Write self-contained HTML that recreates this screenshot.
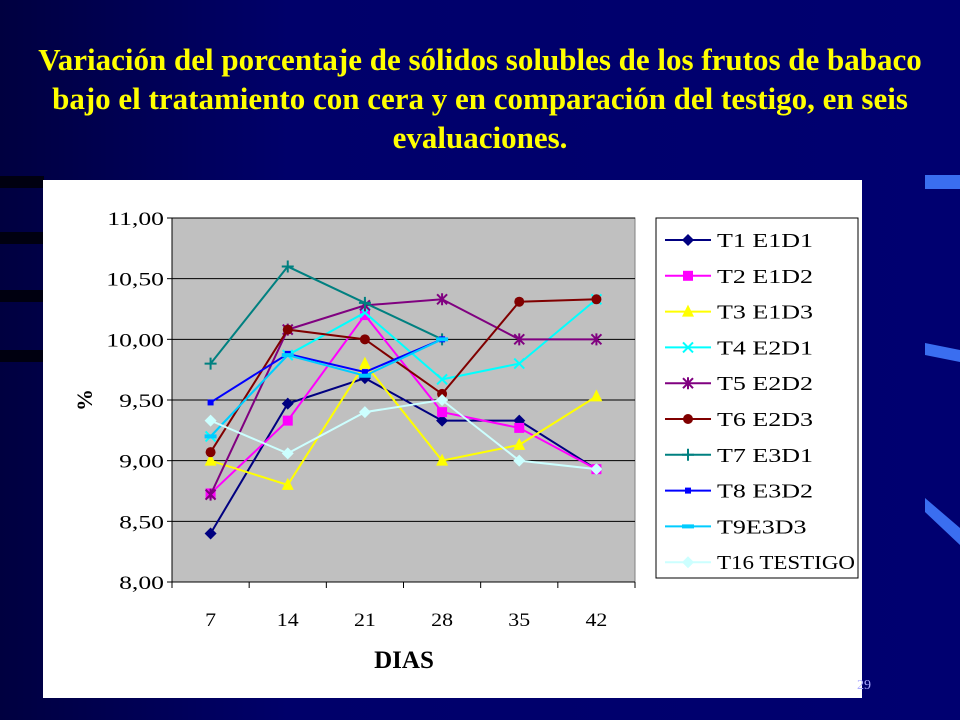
<!DOCTYPE html>
<html><head><meta charset="utf-8">
<style>
html,body{margin:0;padding:0}
body{width:960px;height:720px;overflow:hidden;background:linear-gradient(90deg,#000040 0%,#00006a 30%,#000070 100%);position:relative;font-family:"Liberation Serif",serif}
#title{position:absolute;left:0;top:40px;width:960px;text-align:center;color:#ffff00;font-weight:bold;font-size:31px;line-height:39px;white-space:nowrap}
</style></head><body>
<div id="title">Variación del porcentaje de sólidos solubles de los frutos de babaco<br>bajo el tratamiento con cera y en comparación del testigo, en seis<br>evaluaciones.</div>
<svg id="stripes" width="960" height="720" style="position:absolute;left:0;top:0">
<rect x="0" y="176" width="44" height="12" fill="#000010"/>
<rect x="0" y="232" width="44" height="12" fill="#000010"/>
<rect x="0" y="290" width="44" height="12" fill="#000010"/>
<rect x="0" y="350" width="44" height="12" fill="#000010"/>
<rect x="925" y="175" width="35" height="14" fill="#3a6ef0"/>
<polygon points="925,343 960,350 960,362 925,355" fill="#3a6ef0"/>
<polygon points="925,498 960,528 960,545 925,512" fill="#3a6ef0"/>
</svg>
<svg id="chart" width="960" height="720" style="position:absolute;left:0;top:0"></svg>
<div style="position:absolute;left:857px;top:678px;color:#aaaaff;font-size:14px">29</div>
<script>
const categories=["7","14","21","28","35","42"];
const yTicks=[8,8.5,9,9.5,10,10.5,11];
const seriesNames=["T1 E1D1","T2 E1D2","T3 E1D3","T4 E2D1","T5 E2D2","T6 E2D3","T7 E3D1","T8 E3D2","T9E3D3","T16 TESTIGO"];
const t1=[8.40,9.47,9.68,9.33,9.33,8.93];
const t2=[8.73,9.33,10.20,9.40,9.27,8.93];
const t3=[9.00,8.80,9.80,9.00,9.13,9.53];
const t4=[9.20,9.87,10.22,9.67,9.80,10.33];
const t5=[8.72,10.08,10.28,10.33,10.00,10.00];
const t6=[9.07,10.08,10.00,9.55,10.31,10.33];
const t7=[9.80,10.60,10.30,10.00,null,null];
const t8=[9.48,9.88,9.73,10.00,null,null];
const t9=[9.20,9.87,9.70,10.00,null,null];
const t16=[9.33,9.06,9.40,9.50,9.00,8.93];
const seriesValues=[t1,t2,t3,t4,t5,t6,t7,t8,t9,t16];
const colors=["#000080","#ff00ff","#ffff00","#00ffff","#800080","#800000","#008080","#0000ff","#00ccff","#ccffff"];
const markers=["diamond","square","triangle","x","star","circle","plus","smallsquare","dash","diamond"];

const NS="http://www.w3.org/2000/svg";
const svg=document.getElementById('chart');
function el(t,a,p){const e=document.createElementNS(NS,t);for(const k in a)e.setAttribute(k,a[k]);(p||svg).appendChild(e);return e;}
function stretch(t,k){const w=t.getComputedTextLength();t.setAttribute('textLength',w*k);t.setAttribute('lengthAdjust','spacingAndGlyphs');}
const PX0=172,PX1=635,PY0=218,PY1=582,YMIN=8,YMAX=11;
function xs(i){return PX0+(i+0.5)*(PX1-PX0)/categories.length;}
function ys(v){return PY1-(v-YMIN)/(YMAX-YMIN)*(PY1-PY0);}

let bg=el('rect',{x:43,y:180,width:819,height:518,fill:'#fff'});


let pa=el('rect',{x:PX0,y:PY0,width:PX1-PX0,height:PY1-PY0,fill:'#c0c0c0',stroke:'#808080'});


yTicks.forEach(v=>{
  const y=ys(v);
  if(v>YMIN){let g=el('line',{x1:PX0,x2:PX1,y1:y,y2:y,stroke:'#000','stroke-width':1});
  
  }
  el('line',{x1:PX0-5,x2:PX0,y1:y,y2:y,stroke:'#000'});
  let t=el('text',{x:PX0-8,y:y+7,'text-anchor':'end','font-size':19,fill:'#000'});
  t.textContent=v.toFixed(2).replace('.',',');
  
  
  stretch(t,1.35);
});
el('line',{x1:PX0,x2:PX0,y1:PY0,y2:PY1,stroke:'#000'});
el('line',{x1:PX0,x2:PX1,y1:PY1,y2:PY1,stroke:'#000'});
categories.forEach((c,i)=>{
  const bx=PX0+i*(PX1-PX0)/categories.length;
  el('line',{x1:bx,x2:bx,y1:PY1,y2:PY1+6,stroke:'#000'});
  let t=el('text',{x:xs(i),y:626,'text-anchor':'middle','font-size':19,fill:'#000'});
  t.textContent=c;
  
  
  stretch(t,1.15);
});
el('line',{x1:PX1,x2:PX1,y1:PY1,y2:PY1+6,stroke:'#000'});
let xt=el('text',{x:404,y:668,'text-anchor':'middle','font-size':25,'font-weight':'bold',fill:'#000'});
xt.textContent='DIAS';


let yt=el('text',{x:0,y:0,'text-anchor':'middle','font-size':22,'font-weight':'bold',fill:'#000',transform:'translate(92,400) rotate(-90)'});
yt.textContent='%';



function marker(g,type,x,y,c){
  switch(type){
    case 'diamond':el('polygon',{points:`${x},${y-6} ${x+6},${y} ${x},${y+6} ${x-6},${y}`,fill:c},g);break;
    case 'square':el('rect',{x:x-5,y:y-5,width:10,height:10,fill:c},g);break;
    case 'smallsquare':el('rect',{x:x-3,y:y-3,width:6,height:6,fill:c},g);break;
    case 'triangle':el('polygon',{points:`${x},${y-7} ${x+6},${y+5} ${x-6},${y+5}`,fill:c},g);break;
    case 'circle':el('circle',{cx:x,cy:y,r:5,fill:c},g);break;
    case 'x':el('path',{d:`M${x-5},${y-5}L${x+5},${y+5}M${x-5},${y+5}L${x+5},${y-5}`,stroke:c,'stroke-width':2},g);break;
    case 'star':el('path',{d:`M${x-5},${y-5}L${x+5},${y+5}M${x-5},${y+5}L${x+5},${y-5}M${x},${y-6}L${x},${y+6}`,stroke:c,'stroke-width':2},g);break;
    case 'plus':el('path',{d:`M${x-6},${y}L${x+6},${y}M${x},${y-6}L${x},${y+6}`,stroke:c,'stroke-width':2},g);break;
    case 'dash':el('rect',{x:x-6,y:y-2,width:12,height:4,fill:c},g);break;
  }
}
seriesValues.forEach((vals,s)=>{
  const g=el('g',{});
  
  
  let d='';let pen=false;
  vals.forEach((v,i)=>{if(v==null){pen=false;return;}d+=(pen?'L':'M')+xs(i)+','+ys(v);pen=true;});
  el('path',{d:d,fill:'none',stroke:colors[s],'stroke-width':2},g);
  vals.forEach((v,i)=>{if(v!=null)marker(g,markers[s],xs(i),ys(v),colors[s]);});
});
let lg=el('g',{});


el('rect',{x:656,y:218,width:202,height:360,fill:'#fff',stroke:'#000'},lg);
seriesNames.forEach((n,s)=>{
  const y=240+s*35.8;
  const e=el('g',{},lg);
  
  
  el('line',{x1:665,x2:711,y1:y,y2:y,stroke:colors[s],'stroke-width':2},e);
  marker(e,markers[s],688,y,colors[s]);
  const t=el('text',{x:717,y:y+7,'font-size':20,fill:'#000'},e);
  t.textContent=n;
  const w=t.getComputedTextLength();
  t.setAttribute('textLength',Math.min(w*1.3,138));
  t.setAttribute('lengthAdjust','spacingAndGlyphs');
});
</script>
</body></html>
